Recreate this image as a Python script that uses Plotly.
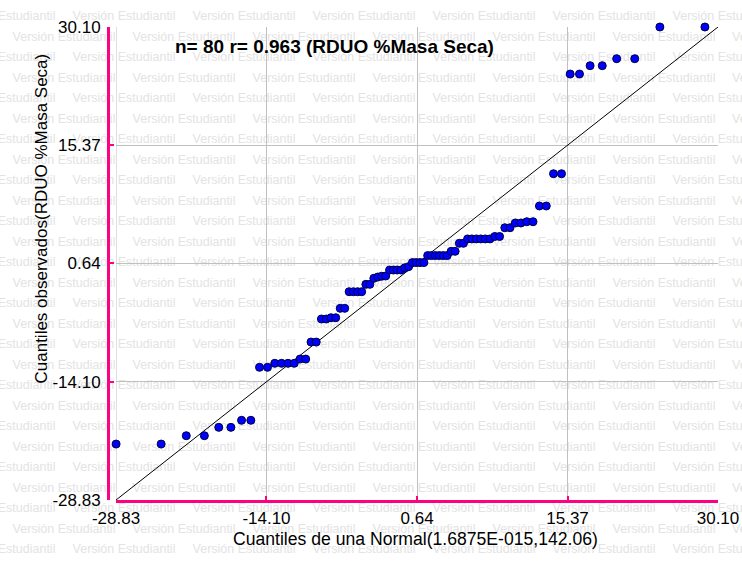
import plotly.graph_objects as go

# Normal Q-Q plot: theoretical quantiles of N(1.6875E-015, 142.06) vs. observed RDUO %Masa Seca
quantil_normal = [
    -28.82, -24.41, -21.95, -20.18, -18.77, -17.58, -16.54, -15.63, -14.78, -14.00,
    -13.29, -12.62, -11.99, -11.38, -10.81, -10.26, -9.74, -9.23, -8.72, -8.25,
    -7.78, -7.32, -6.88, -6.44, -6.01, -5.59, -5.18, -4.78, -4.37, -3.98,
    -3.59, -3.21, -2.82, -2.43, -2.05, -1.68, -1.31, -0.93, -0.56, -0.19,
    0.19, 0.56, 0.93, 1.31, 1.68, 2.05, 2.43, 2.82, 3.21, 3.59,
    3.98, 4.37, 4.78, 5.18, 5.59, 6.01, 6.44, 6.88, 7.32, 7.78,
    8.25, 8.72, 9.23, 9.74, 10.26, 10.81, 11.38, 11.99, 12.62, 13.29,
    14.00, 14.78, 15.63, 16.54, 17.58, 18.77, 20.18, 21.95, 24.41, 28.82,
]
quantil_observado = [
    -21.86, -21.86, -20.82, -20.82, -19.78, -19.78, -18.90, -18.90, -12.30, -12.30,
    -11.80, -11.80, -11.80, -11.80, -11.27, -11.27, -9.15, -9.15, -6.28, -6.28,
    -6.12, -6.12, -4.95, -4.95, -2.88, -2.88, -2.88, -2.88, -1.96, -1.96,
    -1.21, -1.05, -0.95, -0.92, -0.18, -0.18, -0.18, -0.18, 0.09, 0.24,
    0.75, 0.75, 0.75, 0.75, 1.62, 1.62, 1.62, 1.62, 1.62, 1.62,
    2.15, 2.15, 3.15, 3.15, 3.70, 3.70, 3.70, 3.70, 3.70, 3.70,
    4.00, 4.00, 5.09, 5.09, 5.68, 5.68, 5.84, 5.84, 7.80, 7.80,
    11.82, 11.82, 24.24, 24.24, 25.28, 25.28, 26.15, 26.15, 30.10, 30.10,
]
ticks = [-28.83, -14.10, 0.64, 15.37, 30.10]
tick_labels = ["-28.83", "-14.10", "0.64", "15.37", "30.10"]
eje_min, eje_max = ticks[0], ticks[-1]

titulo = "n= 80 r= 0.963 (RDUO %Masa Seca)"
titulo_x = "Cuantiles de una Normal(1.6875E-015,142.06)"
titulo_y = "Cuantiles observados(RDUO %Masa Seca)"
marca_agua = "Versión Estudiantil"

ROSA = "#ff0080"
GRIS = "#c0c0c0"
FUENTE = "Liberation Sans, Arial, sans-serif"

W, H = 742, 567
# plotting area in page pixels
PX_L, PX_R, PX_T, PX_B = 116, 718, 27, 500
EJE_Y_PX = 108  # y axis line drawn slightly left of the plotting area


def fx(p):
    return p / W


def fy(p):
    return (H - p) / H


# tiled background text, staggered every other row (pixel grid on a hidden full-page axis)
ANCHO_MA = 104
wm_x, wm_y, wm_pos = [], [], []
for fila in range(27):
    cy = 17 + 20.5 * fila
    izq = (72 if fila % 2 == 0 else 12) - 120
    while izq < W:
        centro = izq + ANCHO_MA / 2
        if 0 <= centro <= W:
            wm_x.append(centro); wm_pos.append("middle center")
        elif centro > W:
            wm_x.append(izq); wm_pos.append("middle right")
        else:
            wm_x.append(izq + ANCHO_MA); wm_pos.append("middle left")
        wm_y.append(cy)
        izq += 120

fig = go.Figure()
fig.add_trace(go.Scatter(
    x=wm_x, y=wm_y, mode="text", text=[marca_agua] * len(wm_x),
    textposition=wm_pos,
    textfont=dict(family=FUENTE, size=12.5, color="#e3e3e3"),
    cliponaxis=False, hoverinfo="skip", showlegend=False,
    xaxis="x", yaxis="y",
))
fig.add_trace(go.Scatter(
    x=[eje_min, eje_max], y=[eje_min, eje_max], mode="lines",
    line=dict(color="black", width=1), showlegend=False,
    xaxis="x2", yaxis="y2",
))
fig.add_trace(go.Scatter(
    x=quantil_normal, y=quantil_observado, mode="markers",
    marker=dict(size=8, color="#0000ff", line=dict(color="#000040", width=1)),
    cliponaxis=False, showlegend=False,
    xaxis="x2", yaxis="y2",
))

eje_comun = dict(
    range=[eje_min, eje_max], tickmode="array", tickvals=ticks, ticktext=tick_labels,
    showgrid=True, gridcolor=GRIS, gridwidth=1, zeroline=False,
    showline=True, linecolor=ROSA, linewidth=3,
    ticks="inside", ticklen=4, tickwidth=2, tickcolor=ROSA,
    tickfont=dict(family=FUENTE, size=17, color="black"),
    fixedrange=True, automargin=False,
)
oculto = dict(visible=False, showgrid=False, zeroline=False, fixedrange=True, automargin=False)
fig.update_layout(
    width=W, height=H,
    margin=dict(l=0, r=0, t=0, b=0, pad=0, autoexpand=False),
    paper_bgcolor="white", plot_bgcolor="rgba(0,0,0,0)",
    xaxis=dict(domain=[0, 1], range=[0, W], anchor="y", **oculto),
    yaxis=dict(domain=[0, 1], range=[H, 0], anchor="x", **oculto),
    xaxis2=dict(domain=[fx(PX_L), fx(PX_R)], anchor="y2", ticklabelstandoff=1, **eje_comun),
    yaxis2=dict(domain=[fy(PX_B), fy(PX_T)], anchor="free", position=fx(EJE_Y_PX),
                ticklabelstandoff=3, **eje_comun),
    showlegend=False,
)

# grey frame edge along the left side of the plotting area
fig.add_shape(
    type="line", xref="x2", yref="y2", x0=eje_min, x1=eje_min, y0=eje_min, y1=eje_max,
    line=dict(color=GRIS, width=1), layer="below",
)

fig.add_annotation(
    text="<b>" + titulo + "</b>", x=fx(173), y=fy(46),
    xref="paper", yref="paper", xanchor="left", yanchor="middle", showarrow=False,
    font=dict(family=FUENTE, size=19, color="black"),
)
fig.add_annotation(
    text=titulo_x, x=fx(415), y=fy(539),
    xref="paper", yref="paper", xanchor="center", yanchor="middle", showarrow=False,
    font=dict(family=FUENTE, size=17.6, color="black"),
)
fig.add_annotation(
    text=titulo_y, x=fx(41), y=fy(218.5), textangle=-90,
    xref="paper", yref="paper", xanchor="center", yanchor="middle", showarrow=False,
    font=dict(family=FUENTE, size=17, color="black"),
)

fig.write_html("out.html")
